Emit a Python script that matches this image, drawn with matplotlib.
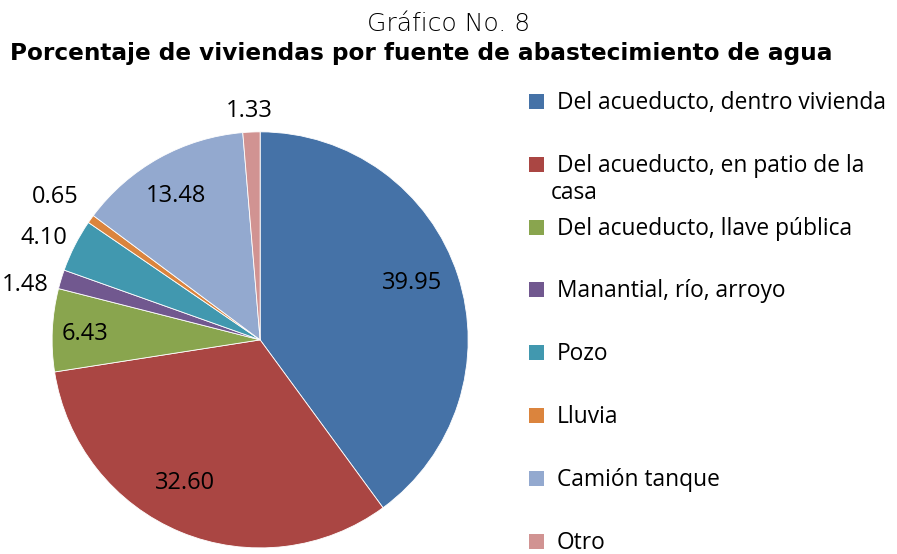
import numpy as np
import matplotlib.pyplot as plt
from matplotlib.patches import Rectangle

categorias = ["Del acueducto, dentro vivienda",
              "Del acueducto, en patio de la\ncasa",
              "Del acueducto, llave pública",
              "Manantial, río, arroyo",
              "Pozo",
              "Lluvia",
              "Camión tanque",
              "Otro"]
porcentajes = [39.95, 32.60, 6.43, 1.48, 4.10, 0.65, 13.48, 1.33]
etiquetas = ["39.95", "32.60", "6.43", "1.48", "4.10", "0.65", "13.48", "1.33"]
colores = ["#4572A7", "#AA4643", "#89A54E", "#71588F",
           "#4198AF", "#DB843D", "#93A9CF", "#D19392"]

# colocacion de etiquetas: distancia (fraccion del radio) y giro respecto al centro de la porcion
dist_etiquetas = [0.78, 0.78, 0.84, 1.16, 1.15, 1.2, 0.80, 1.1]
giro_etiquetas = [2.5, -5.3, 0.7, 3.8, 1.8, 0.5, 1.2, 0.3]

fig = plt.figure(figsize=(8.97, 5.54), dpi=100)
ax = fig.add_axes([0.058, 0.011, 0.464, 0.751])

wedges, _ = ax.pie(porcentajes, colors=colores, startangle=90, counterclock=False,
                   wedgeprops=dict(edgecolor="white", linewidth=0.6))
ax.set_xlim(-1, 1)
ax.set_ylim(-1, 1)
ax.set_aspect("equal")

for w, txt, d, g in zip(wedges, etiquetas, dist_etiquetas, giro_etiquetas):
    ang = np.deg2rad((w.theta1 + w.theta2) / 2 + g)
    ax.text(d * np.cos(ang), d * np.sin(ang), txt, ha="center", va="center",
            fontsize=17, family="Open Sans", color="black", clip_on=False)

# titulos
fig.text(0.5, 1 - 31 / 554, "Gráfico No. 8", ha="center", va="baseline",
         fontsize=18, family="DejaVu Sans", fontweight="light")
fig.text(0.47, 1 - 60 / 554, "Porcentaje de viviendas por fuente de abastecimiento de agua",
         ha="center", va="baseline", fontsize=16.7, family="DejaVu Sans", fontweight="bold")

# leyenda manual
y0 = 101.5
paso = 62.8
for i, (cat, col) in enumerate(zip(categorias, colores)):
    yc = y0 + i * paso
    fig.patches.append(Rectangle((529 / 897, 1 - (yc + 7.5) / 554), 15 / 897, 15 / 554,
                                 transform=fig.transFigure, facecolor=col,
                                 edgecolor="none"))
    for j, linea in enumerate(cat.split("\n")):
        fig.text(557 / 897 if j == 0 else 551 / 897, 1 - (yc + 7.5 + 27 * j) / 554, linea,
                 ha="left", va="baseline", fontsize=16.4, family="Open Sans")

fig.savefig("out.png", dpi=100)
